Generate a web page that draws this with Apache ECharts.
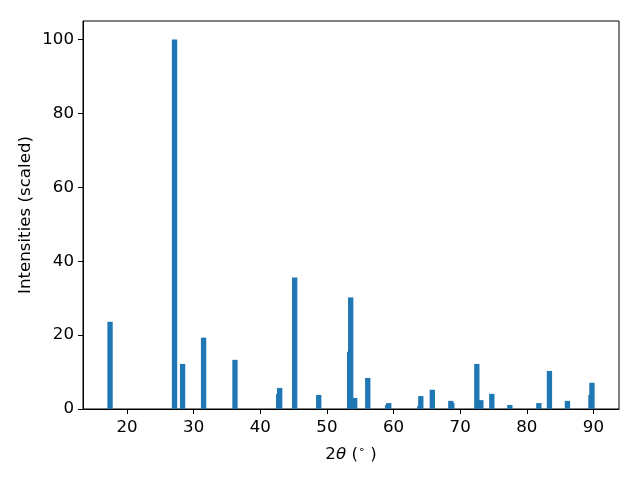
<!DOCTYPE html>
<html>
<head>
<meta charset="utf-8">
<script src="https://cdn.jsdelivr.net/npm/echarts@6/dist/echarts.min.js"></script>
<style>html,body{margin:0;padding:0;background:#fff}#c{width:640px;height:480px}</style>
</head>
<body>
<div id="c"></div>
<script>
const positions = [17.45, 27.13, 28.34, 31.49, 36.2, 42.76, 42.91, 45.16, 48.77, 53.42, 53.57, 54.17, 56.13, 59.13, 59.28, 63.94, 64.09, 65.82, 68.6, 68.75, 72.5, 73.1, 74.75, 77.46, 81.81, 83.4, 86.1, 89.63, 89.78];
const intensities = [23.6, 100, 12.2, 19.3, 13.3, 4.1, 5.7, 35.6, 3.8, 15.5, 30.2, 3.0, 8.4, 1.1, 1.6, 0.8, 3.5, 5.2, 2.2, 1.6, 12.2, 2.4, 4.1, 1.1, 1.6, 10.3, 2.2, 3.8, 7.1];
const xTicks = [20, 30, 40, 50, 60, 70, 80, 90];
const yTicks = [0, 20, 40, 60, 80, 100];
const BAR_W = 0.8;

const data = positions.map((p, i) => [p, intensities[i]]);
const font = 'DejaVu Sans';
const FS = 16.67;
const chart = echarts.init(document.getElementById('c'), null, {renderer: 'canvas'});
chart.setOption({
  animation: false,
  grid: {left: 83, right: 21, top: 21, bottom: 71, show: true, borderColor: '#000', borderWidth: 1, backgroundColor: 'transparent'},
  xAxis: {
    type: 'value', min: 13.39, max: 93.84,
    splitLine: {show: false},
    axisLine: {show: true, lineStyle: {color: '#000', width: 1}},
    axisTick: {show: true, inside: false, length: 5, lineStyle: {color: '#000'}, customValues: xTicks},
    axisLabel: {color: '#000', fontFamily: font, fontSize: FS, margin: 10, customValues: xTicks},
    name: '{n|2}{i|θ}{n| (}{s|∘}{n| )}',
    nameLocation: 'middle', nameGap: 36, nameMoveOverlap: false,
    nameTextStyle: {rich: {
      n: {fontFamily: font, fontSize: FS, color: '#000'},
      i: {fontFamily: font, fontSize: FS, fontStyle: 'italic', color: '#000'},
      s: {fontFamily: font, fontSize: 11, color: '#000', verticalAlign: 'top', padding: [0, 0, 8, 0]}
    }}
  },
  yAxis: {
    type: 'value', min: 0, max: 105,
    splitLine: {show: false},
    axisLine: {show: true, lineStyle: {color: '#000', width: 1}},
    axisTick: {show: true, inside: false, length: 5, lineStyle: {color: '#000'}, customValues: yTicks},
    axisLabel: {color: '#000', fontFamily: font, fontSize: FS, margin: 9, customValues: yTicks},
    name: 'Intensities (scaled)',
    nameLocation: 'middle', nameGap: 49, nameMoveOverlap: false,
    nameTextStyle: {fontFamily: font, fontSize: FS, color: '#000'}
  },
  series: [{
    type: 'custom',
    data: data,
    encode: {x: 0, y: 1},
    clip: true,
    renderItem: function (params, api) {
      const x = api.value(0), y = api.value(1);
      const p0 = api.coord([x - BAR_W / 2, y]);
      const p1 = api.coord([x + BAR_W / 2, 0]);
      return {type: 'rect', shape: {x: p0[0], y: p0[1], width: p1[0] - p0[0], height: p1[1] - p0[1]}, style: {fill: '#1f77b4'}};
    }
  }]
});
</script>
</body>
</html>
